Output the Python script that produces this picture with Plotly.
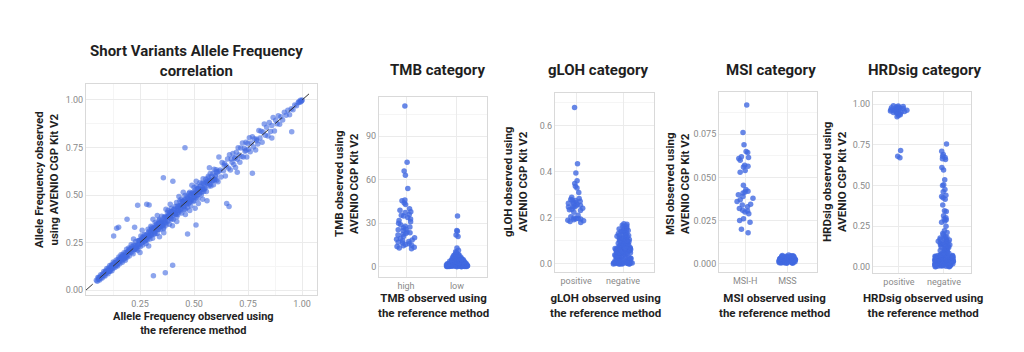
import plotly.graph_objects as go

# ---------------- DATA ----------------
# Panel 1: short variant allele frequency (reference method vs AVENIO CGP Kit V2)
af_ref = [
    0.048, 0.052, 0.055, 0.058, 0.060, 0.063, 0.065, 0.068, 0.070, 0.072,
    0.075, 0.077, 0.080, 0.082, 0.084, 0.086, 0.088, 0.090, 0.092, 0.094,
    0.096, 0.098, 0.100, 0.102, 0.104, 0.106, 0.108, 0.110, 0.112, 0.114,
    0.116, 0.118, 0.120, 0.122, 0.124, 0.126, 0.128, 0.130, 0.132, 0.134,
    0.136, 0.138, 0.140, 0.142, 0.144, 0.146, 0.148, 0.150, 0.152, 0.154,
    0.156, 0.158, 0.160, 0.162, 0.164, 0.166, 0.168, 0.170, 0.172, 0.174,
    0.176, 0.178, 0.180, 0.182, 0.184, 0.186, 0.188, 0.190, 0.192, 0.194,
    0.196, 0.198, 0.200, 0.203, 0.206, 0.209, 0.212, 0.215, 0.218, 0.221,
    0.224, 0.227, 0.230, 0.233, 0.236, 0.239, 0.242, 0.245, 0.248, 0.251,
    0.254, 0.257, 0.260, 0.263, 0.266, 0.269, 0.272, 0.275, 0.278, 0.281,
    0.284, 0.287, 0.290, 0.293, 0.296, 0.299, 0.302, 0.305, 0.308, 0.311,
    0.314, 0.317, 0.320, 0.323, 0.326, 0.329, 0.332, 0.335, 0.338, 0.341,
    0.344, 0.347, 0.350, 0.353, 0.356, 0.359, 0.362, 0.365, 0.368, 0.371,
    0.374, 0.377, 0.380, 0.383, 0.386, 0.389, 0.392, 0.395, 0.398, 0.401,
    0.404, 0.407, 0.410, 0.413, 0.416, 0.419, 0.422, 0.425, 0.428, 0.431,
    0.434, 0.437, 0.440, 0.443, 0.446, 0.449, 0.452, 0.455, 0.458, 0.461,
    0.464, 0.467, 0.470, 0.473, 0.476, 0.479, 0.482, 0.485, 0.488, 0.491,
    0.494, 0.497, 0.500, 0.503, 0.506, 0.509, 0.512, 0.515, 0.518, 0.521,
    0.524, 0.527, 0.530, 0.533, 0.536, 0.539, 0.542, 0.545, 0.548, 0.551,
    0.554, 0.557, 0.560, 0.563, 0.566, 0.569, 0.572, 0.575, 0.578, 0.581,
    0.584, 0.587, 0.590, 0.593, 0.596, 0.599, 0.602, 0.605, 0.608, 0.611,
    0.06, 0.09, 0.12, 0.15, 0.18, 0.21, 0.24, 0.27, 0.30, 0.33,
    0.36, 0.39, 0.42, 0.45, 0.48, 0.51, 0.54, 0.57, 0.60, 0.11,
    0.14, 0.17, 0.20, 0.23, 0.26, 0.29, 0.32, 0.35, 0.38, 0.41,
    0.44, 0.47, 0.50, 0.53, 0.56, 0.59, 0.225, 0.255, 0.285, 0.315,
    0.345, 0.375, 0.405, 0.435, 0.465, 0.495, 0.525, 0.555, 0.585, 0.615,
    0.26, 0.29, 0.31, 0.34, 0.37, 0.40, 0.43, 0.46, 0.49, 0.52,
    0.22, 0.25, 0.33, 0.36, 0.39, 0.42, 0.45, 0.48, 0.51, 0.54,
    0.620, 0.625, 0.630, 0.636, 0.641, 0.645, 0.650, 0.655, 0.660, 0.664,
    0.668, 0.672, 0.676, 0.680, 0.684, 0.688, 0.692, 0.696, 0.700, 0.704,
    0.708, 0.712, 0.716, 0.720, 0.724, 0.728, 0.732, 0.736, 0.740, 0.744,
    0.748, 0.752, 0.756, 0.760, 0.765, 0.770, 0.775, 0.780, 0.785, 0.790,
    0.795, 0.800, 0.805, 0.810, 0.815, 0.820, 0.825, 0.830, 0.836, 0.842,
    0.848, 0.854, 0.860, 0.866, 0.872, 0.878, 0.884, 0.890, 0.896, 0.902,
    0.910, 0.918, 0.926, 0.934, 0.942, 0.950, 0.958, 0.966, 0.974, 0.982,
    0.990, 0.995, 0.998, 1.000, 0.992, 0.985, 0.640, 0.690, 0.740, 0.790,
    0.458, 0.358, 0.312, 0.401, 0.952, 0.770, 0.651, 0.662, 0.281, 0.292,
    0.402, 0.142, 0.190, 0.571, 0.505, 0.225, 0.560, 0.700, 0.860, 0.615,
    0.367, 0.128, 0.239, 0.470, 0.509, 0.151,
    0.105, 0.125, 0.145, 0.165, 0.185, 0.205, 0.235, 0.265, 0.295, 0.325,
    0.355, 0.385, 0.415, 0.445, 0.475, 0.505, 0.535, 0.565, 0.595, 0.245,
    0.275, 0.305, 0.335, 0.365, 0.395, 0.425, 0.455, 0.485, 0.515, 0.545,
    0.213, 0.243, 0.273, 0.303, 0.333, 0.363, 0.393, 0.423, 0.453, 0.483,
    0.513, 0.543, 0.573, 0.603, 0.118, 0.138, 0.158, 0.178, 0.198, 0.228,
    0.258, 0.288, 0.318, 0.348, 0.378, 0.408, 0.438, 0.468, 0.498, 0.528,
    0.338, 0.368, 0.398, 0.428, 0.458, 0.488, 0.518, 0.548, 0.308, 0.278,
    0.42, 0.44, 0.46, 0.48, 0.50, 0.38, 0.36, 0.34, 0.32, 0.30,
]
af_avenio = [
    0.052, 0.046, 0.066, 0.056, 0.067, 0.053, 0.066, 0.081, 0.065, 0.075,
    0.063, 0.085, 0.079, 0.097, 0.076, 0.088, 0.074, 0.100, 0.096, 0.088,
    0.113, 0.095, 0.106, 0.086, 0.116, 0.106, 0.099, 0.129, 0.099, 0.119,
    0.112, 0.132, 0.102, 0.129, 0.114, 0.147, 0.130, 0.123, 0.143, 0.119,
    0.145, 0.136, 0.158, 0.130, 0.148, 0.126, 0.161, 0.144, 0.174, 0.155,
    0.139, 0.168, 0.155, 0.186, 0.153, 0.169, 0.146, 0.186, 0.179, 0.165,
    0.196, 0.164, 0.185, 0.157, 0.196, 0.183, 0.215, 0.172, 0.201, 0.186,
    0.198, 0.221, 0.179, 0.214, 0.200, 0.238, 0.199, 0.219, 0.191, 0.237,
    0.214, 0.234, 0.256, 0.216, 0.237, 0.209, 0.261, 0.241, 0.261, 0.228,
    0.284, 0.249, 0.275, 0.237, 0.271, 0.291, 0.257, 0.277, 0.245, 0.292,
    0.265, 0.320, 0.287, 0.311, 0.268, 0.307, 0.291, 0.331, 0.272, 0.315,
    0.328, 0.295, 0.355, 0.317, 0.347, 0.297, 0.333, 0.320, 0.366, 0.332,
    0.319, 0.357, 0.388, 0.340, 0.359, 0.322, 0.386, 0.363, 0.384, 0.342,
    0.380, 0.408, 0.362, 0.395, 0.346, 0.409, 0.385, 0.431, 0.374, 0.403,
    0.371, 0.424, 0.406, 0.440, 0.400, 0.460, 0.430, 0.398, 0.441, 0.421,
    0.468, 0.416, 0.444, 0.405, 0.469, 0.441, 0.467, 0.425, 0.497, 0.461,
    0.450, 0.493, 0.435, 0.482, 0.508, 0.460, 0.485, 0.443, 0.509, 0.486,
    0.512, 0.468, 0.540, 0.492, 0.512, 0.485, 0.547, 0.513, 0.481, 0.535,
    0.504, 0.564, 0.531, 0.500, 0.560, 0.530, 0.585, 0.519, 0.558, 0.535,
    0.583, 0.518, 0.572, 0.559, 0.599, 0.547, 0.577, 0.613, 0.547, 0.598,
    0.576, 0.612, 0.554, 0.635, 0.581, 0.602, 0.633, 0.578, 0.619, 0.570,
    0.061, 0.092, 0.118, 0.152, 0.178, 0.213, 0.236, 0.274, 0.297, 0.334,
    0.356, 0.394, 0.417, 0.455, 0.476, 0.514, 0.537, 0.573, 0.596, 0.107,
    0.143, 0.168, 0.204, 0.226, 0.264, 0.286, 0.325, 0.346, 0.385, 0.407,
    0.446, 0.466, 0.505, 0.527, 0.565, 0.586, 0.214, 0.265, 0.276, 0.326,
    0.336, 0.386, 0.396, 0.445, 0.455, 0.505, 0.516, 0.566, 0.574, 0.625,
    0.315, 0.232, 0.372, 0.281, 0.425, 0.338, 0.492, 0.398, 0.552, 0.455,
    0.268, 0.198, 0.392, 0.301, 0.452, 0.361, 0.515, 0.418, 0.572, 0.478,
    0.632, 0.595, 0.671, 0.628, 0.666, 0.600, 0.653, 0.689, 0.641, 0.712,
    0.632, 0.690, 0.672, 0.719, 0.660, 0.695, 0.645, 0.725, 0.688, 0.748,
    0.710, 0.672, 0.747, 0.703, 0.774, 0.700, 0.746, 0.730, 0.777, 0.700,
    0.771, 0.741, 0.801, 0.727, 0.773, 0.806, 0.753, 0.796, 0.737, 0.794,
    0.768, 0.840, 0.800, 0.836, 0.777, 0.831, 0.874, 0.814, 0.857, 0.811,
    0.881, 0.834, 0.866, 0.908, 0.837, 0.893, 0.875, 0.917, 0.872, 0.912,
    0.895, 0.936, 0.920, 0.946, 0.922, 0.954, 0.948, 0.974, 0.970, 0.985,
    0.988, 0.992, 0.996, 1.000, 0.998, 0.990, 0.655, 0.695, 0.735, 0.785,
    0.749, 0.591, 0.075, 0.130, 0.833, 0.614, 0.456, 0.440, 0.452, 0.448,
    0.572, 0.325, 0.372, 0.644, 0.430, 0.330, 0.470, 0.620, 0.800, 0.700,
    0.091, 0.284, 0.446, 0.295, 0.342, 0.330,
    0.097, 0.136, 0.139, 0.177, 0.175, 0.219, 0.224, 0.279, 0.283, 0.342,
    0.338, 0.402, 0.397, 0.466, 0.456, 0.526, 0.514, 0.590, 0.579, 0.260,
    0.288, 0.289, 0.352, 0.350, 0.413, 0.407, 0.474, 0.466, 0.533, 0.529,
    0.228, 0.231, 0.259, 0.321, 0.318, 0.381, 0.376, 0.442, 0.437, 0.499,
    0.497, 0.562, 0.556, 0.622, 0.127, 0.131, 0.164, 0.171, 0.207, 0.217,
    0.247, 0.301, 0.306, 0.363, 0.367, 0.425, 0.427, 0.484, 0.487, 0.546,
    0.351, 0.355, 0.412, 0.419, 0.473, 0.474, 0.531, 0.536, 0.318, 0.266,
    0.385, 0.478, 0.425, 0.515, 0.468, 0.418, 0.330, 0.372, 0.298, 0.336,
]
identity_line = [0.0, 1.04]

# Panel 2: TMB
tmb_categories = ["high", "low"]
tmb_high = [110.6, 72, 66, 63, 54, 46, 45.5, 44, 43, 40, 39, 38, 37.5, 36, 35,
            35.5, 34, 33, 32, 30, 29, 28, 27.5, 27, 26, 25, 24, 23, 23.5, 22,
            21, 20, 19.5, 19, 18, 18.5, 17, 17.5, 16, 16.5, 15, 15.5, 14, 14.5,
            13, 13.5, 12.5, 31, 25.5, 22.5]
tmb_low = [0.4, 1.2, 2.7, 0.9, 3.5, 5.1, 1.8, 0.3, 4.2, 2.2,
           6.8, 1.5, 0.7, 3.1, 2.5, 7.4, 1.1, 4.8, 0.5, 2.9,
           3.8, 1.7, 8.2, 0.8, 2.1, 5.6, 1.3, 3.3, 0.6, 4.5,
           2.4, 6.1, 1.9, 0.2, 3.6, 1.4, 5.3, 2.8, 0.9, 7.9,
           1.6, 4.1, 2.3, 0.4, 3.0, 6.5, 1.0, 2.6, 4.9, 1.2,
           0.7, 3.4, 8.6, 2.0, 1.5, 5.8, 0.3, 3.9, 2.2, 1.8,
           4.4, 0.6, 2.7, 7.1, 1.1, 3.2, 0.9, 5.0, 2.5, 1.4,
           6.3, 0.5, 3.7, 2.1, 4.6, 1.7, 0.8, 2.9, 8.9, 1.3,
           3.5, 0.4, 5.5, 2.4, 1.0, 4.0, 6.9, 1.9, 0.6, 3.1,
           2.6, 7.6, 1.2, 4.3, 0.2, 2.0, 5.2, 1.6, 3.8, 0.9,
           8.4, 2.8, 1.4, 6.0, 0.7, 3.3, 2.3, 4.7, 1.1, 0.5,
           3.6, 7.3, 1.8, 2.5, 5.7, 0.3, 4.1, 1.5, 2.9, 6.6,
           1.0, 3.0, 0.8, 4.9, 2.2, 1.3, 5.4, 0.6, 3.4, 2.7,
           10.0, 10.5, 11.5, 13, 21, 22, 24.5, 25, 35]

# Panel 3: gLOH
gloh_categories = ["positive", "negative"]
gloh_pos = [0.680, 0.435, 0.395, 0.362, 0.350, 0.338, 0.330, 0.310, 0.290, 0.285,
            0.280, 0.276, 0.272, 0.268, 0.264, 0.262, 0.258, 0.255, 0.252, 0.250,
            0.246, 0.242, 0.238, 0.232, 0.225, 0.212, 0.205, 0.200, 0.198, 0.195,
            0.192, 0.190, 0.188, 0.185, 0.180, 0.278, 0.266, 0.248, 0.236, 0.196]
gloh_neg = [0.012, 0.045, 0.088, 0.003, 0.067, 0.102, 0.031, 0.056, 0.118, 0.022,
            0.074, 0.009, 0.095, 0.041, 0.130, 0.060, 0.017, 0.083, 0.036, 0.108,
            0.004, 0.051, 0.125, 0.027, 0.070, 0.091, 0.014, 0.062, 0.039, 0.113,
            0.002, 0.080, 0.048, 0.020, 0.099, 0.066, 0.033, 0.122, 0.007, 0.058,
            0.086, 0.025, 0.104, 0.043, 0.011, 0.072, 0.135, 0.030, 0.093, 0.054,
            0.001, 0.078, 0.116, 0.037, 0.064, 0.019, 0.100, 0.047, 0.082, 0.006,
            0.128, 0.069, 0.023, 0.090, 0.052, 0.010, 0.111, 0.035, 0.076, 0.044,
            0.000, 0.097, 0.061, 0.015, 0.120, 0.029, 0.084, 0.050, 0.106, 0.008,
            0.071, 0.040, 0.132, 0.018, 0.063, 0.094, 0.026, 0.057, 0.115, 0.005,
            0.079, 0.042, 0.101, 0.013, 0.068, 0.034, 0.124, 0.049, 0.087, 0.021,
            0.000, 0.003, 0.001, 0.002, 0.000, 0.004, 0.001, 0.000, 0.002, 0.006,
            0.145, 0.150, 0.158, 0.165, 0.172, 0.140, 0.155, 0.162, 0.148, 0.175,
            0.138, 0.142, 0.152, 0.168]

# Panel 4: MSI
msi_categories = ["MSI-H", "MSS"]
msi_h = [0.092, 0.076, 0.069, 0.065, 0.0645, 0.062, 0.0615, 0.061, 0.060, 0.057,
         0.0565, 0.056, 0.054, 0.053, 0.0455, 0.043, 0.042, 0.0415, 0.041, 0.040,
         0.039, 0.038, 0.037, 0.036, 0.0345, 0.034, 0.033, 0.032, 0.031, 0.0305,
         0.030, 0.029, 0.026, 0.025, 0.024, 0.020, 0.018]
mss = [0.0012, 0.0031, 0.0005, 0.0024, 0.0043, 0.0018, 0.0009, 0.0036, 0.0027, 0.0014,
       0.0048, 0.0021, 0.0007, 0.0033, 0.0011, 0.0040, 0.0026, 0.0016, 0.0003, 0.0038,
       0.0022, 0.0045, 0.0010, 0.0030, 0.0019, 0.0006, 0.0035, 0.0028, 0.0013, 0.0042,
       0.0017, 0.0025, 0.0008, 0.0039, 0.0020, 0.0032, 0.0004, 0.0046, 0.0015, 0.0029,
       0.0023, 0.0011, 0.0037, 0.0019, 0.0027, 0.0006, 0.0041, 0.0013, 0.0034, 0.0021,
       0.0010, 0.0044, 0.0017, 0.0026, 0.0002, 0.0031, 0.0024, 0.0008, 0.0038, 0.0015,
       0.0050, 0.0020, 0.0012, 0.0035, 0.0028, 0.0005, 0.0043, 0.0018, 0.0030, 0.0009]

# Panel 5: HRDsig
hrd_categories = ["positive", "negative"]
hrd_pos = [0.990, 0.988, 0.985, 0.982, 0.978, 0.975, 0.972, 0.970, 0.968, 0.965,
           0.962, 0.960, 0.958, 0.955, 0.952, 0.950, 0.948, 0.945, 0.942, 0.940,
           0.935, 0.930, 0.922, 0.975, 0.980, 0.965, 0.715, 0.680, 0.670]
hrd_neg = [0.755, 0.710, 0.690, 0.680, 0.672, 0.665, 0.660, 0.610, 0.595, 0.535,
           0.505, 0.500, 0.475, 0.462, 0.440, 0.432, 0.425, 0.415, 0.380, 0.345,
           0.340, 0.315, 0.302, 0.295, 0.290, 0.282, 0.275, 0.250, 0.222, 0.212,
           0.205, 0.198,
           0.185, 0.171, 0.162, 0.178, 0.149, 0.136, 0.166, 0.121, 0.154, 0.142,
           0.110, 0.128, 0.097, 0.175, 0.117, 0.139, 0.088, 0.158, 0.105, 0.131,
           0.093, 0.182, 0.124, 0.146, 0.101, 0.113, 0.169, 0.084, 0.152, 0.119,
           0.135, 0.091,
           0.012, 0.045, 0.028, 0.063, 0.005, 0.037, 0.071, 0.019, 0.052, 0.008,
           0.041, 0.024, 0.066, 0.033, 0.002, 0.057, 0.015, 0.078, 0.030, 0.048,
           0.010, 0.069, 0.022, 0.039, 0.055, 0.004, 0.035, 0.061, 0.017, 0.046,
           0.026, 0.074, 0.009, 0.042, 0.058, 0.013, 0.031, 0.067, 0.021, 0.050,
           0.006, 0.038, 0.072, 0.027, 0.044, 0.016, 0.060, 0.003, 0.034, 0.053,
           0.020, 0.076, 0.011, 0.047, 0.029, 0.064, 0.007, 0.040, 0.056, 0.018,
           0.032, 0.070, 0.014, 0.049, 0.025, 0.062, 0.001, 0.043, 0.036, 0.059,
           0.023, 0.068, 0.010, 0.051, 0.030, 0.075, 0.015, 0.039, 0.054, 0.006,
           0.027, 0.065, 0.019, 0.045, 0.035, 0.073, 0.012, 0.057, 0.024, 0.041]

# ---------------- FIGURE ----------------
W, H = 1024, 352
FONT = "Roboto"
BLUE = "#4169E1"
TXT = "#1f1f1f"
TICK = "#8a8a8a"
GRID = "#ebebeb"
MINOR = "#f5f5f5"
BORDER = "#d9d9d9"


def xd(a, b):
    return [a / W, b / W]


def yd(top, bottom):
    return [1 - bottom / H, 1 - top / H]


fig = go.Figure()

fig.add_trace(go.Scatter(
    x=af_ref, y=af_avenio, mode="markers",
    marker=dict(color=BLUE, size=5.5, opacity=0.6, line=dict(width=0)),
    xaxis="x", yaxis="y", hoverinfo="skip", showlegend=False))
fig.add_trace(go.Scatter(
    x=identity_line, y=identity_line, mode="lines",
    line=dict(color="#333333", width=1, dash="dash"),
    xaxis="x", yaxis="y", hoverinfo="skip", showlegend=False))


def strip(cats, groups, n):
    xs, ys = [], []
    for c, vals in zip(cats, groups):
        xs += [c] * len(vals)
        ys += list(vals)
    return go.Box(
        x=xs, y=ys, boxpoints="all", jitter=0.85, pointpos=0,
        fillcolor="rgba(0,0,0,0)", line=dict(width=0, color="rgba(0,0,0,0)"),
        whiskerwidth=0,
        marker=dict(color=BLUE, size=5.5, opacity=0.8, line=dict(width=0)),
        xaxis=f"x{n}", yaxis=f"y{n}", hoverinfo="skip", showlegend=False)


fig.add_trace(strip(tmb_categories, [tmb_high, tmb_low], 2))
fig.add_trace(strip(gloh_categories, [gloh_pos, gloh_neg], 3))
fig.add_trace(strip(msi_categories, [msi_h, mss], 4))
fig.add_trace(strip(hrd_categories, [hrd_pos, hrd_neg], 5))

common = dict(showline=True, mirror=True, linecolor=BORDER, linewidth=1,
              showgrid=True, gridcolor=GRID, gridwidth=1, zeroline=False,
              ticks="", tickfont=dict(family=FONT, size=9, color=TICK))

layout = dict(
    width=W, height=H, margin=dict(l=0, r=0, t=0, b=0),
    paper_bgcolor="white", plot_bgcolor="white", showlegend=False,
    font=dict(family=FONT, color=TXT),
    boxgap=0.3,
    xaxis=dict(domain=xd(86, 317), range=[0.0, 1.069], anchor="y",
               tickvals=[0.25, 0.5, 0.75, 1.0], tickformat=".2f",
               minor=dict(tickvals=[0.125, 0.375, 0.625, 0.875],
                          showgrid=True, gridcolor=MINOR), **common),
    yaxis=dict(domain=yd(84, 295), range=[-0.026, 1.084], anchor="x",
               tick0=0, dtick=0.25, tickformat=".2f",
               minor=dict(tick0=0.125, dtick=0.25, showgrid=True, gridcolor=MINOR),
               **common),
    xaxis2=dict(domain=xd(379, 487), range=[-0.53, 1.59], anchor="y2",
                type="category", **common),
    yaxis2=dict(domain=yd(97, 277), range=[-6.9, 116.8], anchor="x2",
                tick0=0, dtick=30,
                minor=dict(tick0=15, dtick=30, showgrid=True, gridcolor=MINOR),
                **common),
    xaxis3=dict(domain=xd(555, 654), range=[-0.45, 1.66], anchor="y3",
                type="category", **common),
    yaxis3=dict(domain=yd(93, 272), range=[-0.035, 0.743], anchor="x3",
                tick0=0, dtick=0.2, tickformat=".1f",
                minor=dict(tick0=0.1, dtick=0.2, showgrid=True, gridcolor=MINOR),
                **common),
    xaxis4=dict(domain=xd(719, 817), range=[-0.62, 1.7], anchor="y4",
                type="category", **common),
    yaxis4=dict(domain=yd(92, 272), range=[-0.0048, 0.0995], anchor="x4",
                tickvals=[0, 0.025, 0.05, 0.075], tickformat=".3f",
                minor=dict(tickvals=[0.0125, 0.0375, 0.0625, 0.0875],
                           showgrid=True, gridcolor=MINOR),
                **common),
    xaxis5=dict(domain=xd(873, 971), range=[-0.577, 1.6], anchor="y5",
                type="category", **common),
    yaxis5=dict(domain=yd(92, 273), range=[-0.037, 1.074], anchor="x5",
                tick0=0, dtick=0.25, tickformat=".2f",
                minor=dict(tick0=0.125, dtick=0.25, showgrid=True, gridcolor=MINOR),
                **common),
)
fig.update_layout(**layout)


def ann(text, px, py, size, angle=0):
    fig.add_annotation(
        text=text, x=px / W, y=1 - py / H, xref="paper", yref="paper",
        xanchor="center", yanchor="middle", showarrow=False, textangle=angle,
        font=dict(family=FONT, size=size, color=TXT, weight="bold"), align="center")


# panel titles
ann("Short Variants Allele Frequency<br>correlation", 196, 61, 15)
ann("TMB category", 437, 70, 15)
ann("gLOH category", 598, 70, 15)
ann("MSI category", 771, 70, 15)
ann("HRDsig category", 925, 70, 15)

# x axis titles
ann("Allele Frequency observed using<br>the reference method", 193, 323, 11)
ann("TMB observed using<br>the reference method", 433, 305, 11.5)
ann("gLOH observed using<br>the reference method", 605, 305, 11.5)
ann("MSI observed using<br>the reference method", 774, 305, 11.5)
ann("HRDsig observed using<br>the reference method", 923, 305, 11.5)

# y axis titles
ann("Allele Frequency observed<br>using AVENIO CGP Kit V2", 46, 180, 11.5, -90)
ann("TMB observed using<br>AVENIO CGP Kit V2", 346, 184, 11.5, -90)
ann("gLOH observed using<br>AVENIO CGP Kit V2", 515, 182, 11.5, -90)
ann("MSI observed using<br>AVENIO CGP Kit V2", 677, 184, 11.5, -90)
ann("HRDsig observed using<br>AVENIO CGP Kit V2", 834, 182, 11.5, -90)

fig.write_html("out.html")
